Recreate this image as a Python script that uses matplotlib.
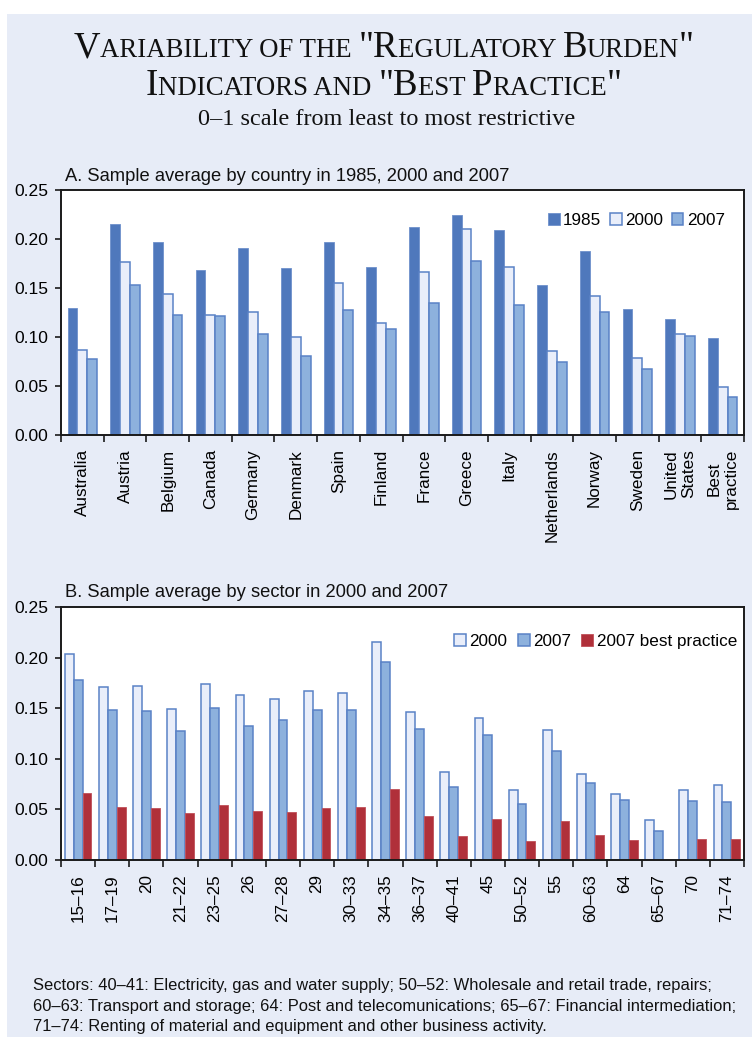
import matplotlib
matplotlib.use("Agg")
import matplotlib.pyplot as plt
import numpy as np
from matplotlib.patches import Rectangle
from matplotlib.ticker import FixedLocator, FormatStrFormatter

# ---------------- data ----------------
countries = ["Australia", "Austria", "Belgium", "Canada", "Germany", "Denmark",
             "Spain", "Finland", "France", "Greece", "Italy", "Netherlands",
             "Norway", "Sweden", "United\nStates", "Best\npractice"]
a_1985 = [0.130, 0.215, 0.197, 0.168, 0.191, 0.170, 0.197, 0.171, 0.212, 0.224,
          0.209, 0.153, 0.188, 0.129, 0.118, 0.099]
a_2000 = [0.087, 0.177, 0.144, 0.122, 0.126, 0.100, 0.155, 0.114, 0.166, 0.210,
          0.171, 0.086, 0.142, 0.079, 0.103, 0.049]
a_2007 = [0.078, 0.153, 0.122, 0.121, 0.103, 0.081, 0.128, 0.108, 0.135, 0.178,
          0.133, 0.074, 0.126, 0.067, 0.101, 0.039]

sectors = ["15–16", "17–19", "20", "21–22", "23–25", "26", "27–28", "29", "30–33",
           "34–35", "36–37", "40–41", "45", "50–52", "55", "60–63", "64", "65–67",
           "70", "71–74"]
b_2000 = [0.204, 0.171, 0.172, 0.149, 0.174, 0.163, 0.159, 0.167, 0.165, 0.215,
          0.146, 0.087, 0.140, 0.069, 0.128, 0.085, 0.065, 0.040, 0.069, 0.074]
b_2007 = [0.178, 0.148, 0.147, 0.127, 0.150, 0.132, 0.138, 0.148, 0.148, 0.196,
          0.129, 0.072, 0.124, 0.055, 0.108, 0.076, 0.059, 0.029, 0.058, 0.057]
b_best = [0.066, 0.052, 0.051, 0.046, 0.054, 0.048, 0.047, 0.051, 0.052, 0.070,
          0.043, 0.024, 0.041, 0.019, 0.039, 0.025, 0.020, 0.000, 0.021, 0.021]

yticks = [0.00, 0.05, 0.10, 0.15, 0.20, 0.25]

title1 = [("V", "B"), ("ARIABILITY OF THE ", "S"), ("\"R", "B"), ("EGULATORY ", "S"),
          ("B", "B"), ("URDEN", "S"), ("\"", "B")]
title2 = [("I", "B"), ("NDICATORS AND ", "S"), ("\"B", "B"), ("EST ", "S"),
          ("P", "B"), ("RACTICE", "S"), ("\"", "B")]
subtitle = "0–1 scale from least to most restrictive"
titleA = "A. Sample average by country in 1985, 2000 and 2007"
titleB = "B. Sample average by sector in 2000 and 2007"
notes = ["Sectors: 40–41: Electricity, gas and water supply; 50–52: Wholesale and retail trade, repairs;",
         "60–63: Transport and storage; 64: Post and telecomunications; 65–67: Financial intermediation;",
         "71–74: Renting of material and equipment and other business activity."]

# ---------------- style ----------------
W, H = 752, 1037
SANS = "Liberation Sans"
SERIF = "Liberation Serif"
C1985 = "#4F78BC"
C2000 = "#E9EEFA"
C2007 = "#8DB1DD"
CEDGE = "#5A82C6"
CBEST = "#B0303A"
BG = "#E7ECF7"
FS = 12.3

plt.rcParams["font.family"] = [SANS, "DejaVu Sans"]

fig = plt.figure(figsize=(W / 100, H / 100), dpi=100)
fig.patch.set_facecolor("white")
fig.patches.append(Rectangle((7 / W, 0), 1 - 7 / W, 1 - 14 / H,
                             transform=fig.transFigure, facecolor=BG,
                             edgecolor="none", zorder=-10))


def fx(px):
    return px / W


def fy(py):
    return 1 - py / H


def style_axes(ax, n, labels):
    ax.set_xlim(-0.5, n - 0.5)
    ax.set_ylim(0, 0.25)
    ax.set_facecolor("white")
    for s in ax.spines.values():
        s.set_linewidth(1.4)
        s.set_color("#1a1a1a")
    ax.yaxis.set_major_locator(FixedLocator(yticks))
    ax.yaxis.set_major_formatter(FormatStrFormatter("%.2f"))
    ax.tick_params(axis="y", direction="out", length=4, width=1.2, pad=5,
                   labelsize=12.6, color="#1a1a1a")
    ax.set_xticks(np.arange(n))
    ax.set_xticklabels(labels, rotation=90, fontsize=FS)
    ax.tick_params(axis="x", which="major", length=0, pad=10)
    ax.set_xticks(np.arange(n + 1) - 0.5, minor=True)
    ax.tick_params(axis="x", which="minor", direction="out", length=5,
                   width=1.2, color="#1a1a1a")


# ---------------- panel A ----------------
axA = fig.add_axes([fx(61), fy(435), fx(744 - 61), (435 - 190) / H])
x = np.arange(len(countries))
w = 0.23
axA.bar(x - w, a_1985, w, color=C1985, edgecolor="#6E90CC", linewidth=0.6, label="1985")
axA.bar(x, a_2000, w, color=C2000, edgecolor=CEDGE, linewidth=1.1, label="2000")
axA.bar(x + w, a_2007, w, color=C2007, edgecolor=CEDGE, linewidth=1.1, label="2007")
style_axes(axA, len(countries), countries)
axA.legend(loc="upper right", bbox_to_anchor=(0.972, 0.905), ncol=3, frameon=False,
           fontsize=FS, handlelength=0.7, handleheight=0.7, handletextpad=0.2,
           columnspacing=0.5, borderpad=0, borderaxespad=0)

# ---------------- panel B ----------------
axB = fig.add_axes([fx(61), fy(860), fx(744 - 61), (860 - 607) / H])
x = np.arange(len(sectors))
w = 0.26
axB.bar(x - w, b_2000, w, color=C2000, edgecolor=CEDGE, linewidth=1.1, label="2000")
axB.bar(x, b_2007, w, color=C2007, edgecolor=CEDGE, linewidth=1.1, label="2007")
axB.bar(x + w, b_best, w, color=CBEST, edgecolor="#C05058", linewidth=0.6,
        label="2007 best practice")
style_axes(axB, len(sectors), sectors)
axB.legend(loc="upper right", bbox_to_anchor=(0.99, 0.895), ncol=3, frameon=False,
           fontsize=FS, handlelength=0.7, handleheight=0.7, handletextpad=0.2,
           columnspacing=0.6, borderpad=0, borderaxespad=0)

# ---------------- texts ----------------
fig.text(fx(65), fy(181), titleA, fontsize=13.2, ha="left", va="baseline", color="#111")
fig.text(fx(65), fy(597), titleB, fontsize=13.2, ha="left", va="baseline", color="#111")
for i, line in enumerate(notes):
    fig.text(fx(33), fy(990 + 20.5 * i), line, fontsize=11.9, ha="left",
             va="baseline", color="#111")

fig.text(fx(387), fy(125), subtitle, fontsize=17.5, family=SERIF, ha="center",
         va="baseline", color="#111")

renderer = fig.canvas.get_renderer()
BIG, SMALL = 26.5, 19.3


def measure(s, size):
    t1 = fig.text(0, 0, "|" + s + "|", fontsize=size, family=SERIF)
    t2 = fig.text(0, 0, "||", fontsize=size, family=SERIF)
    wpx = t1.get_window_extent(renderer).width - t2.get_window_extent(renderer).width
    t1.remove()
    t2.remove()
    return wpx


def small_caps(segments, base_py):
    widths = [measure(s, BIG if k == "B" else SMALL) for s, k in segments]
    total = sum(widths)
    xpx = W / 2 - total / 2 + 8
    for (s, k), wpx in zip(segments, widths):
        fig.text(fx(xpx), fy(base_py), s, fontsize=BIG if k == "B" else SMALL,
                 family=SERIF, ha="left", va="baseline", color="#111")
        xpx += wpx


small_caps(title1, 57)
small_caps(title2, 95)

fig.savefig("out.png", dpi=100, facecolor=fig.get_facecolor())
